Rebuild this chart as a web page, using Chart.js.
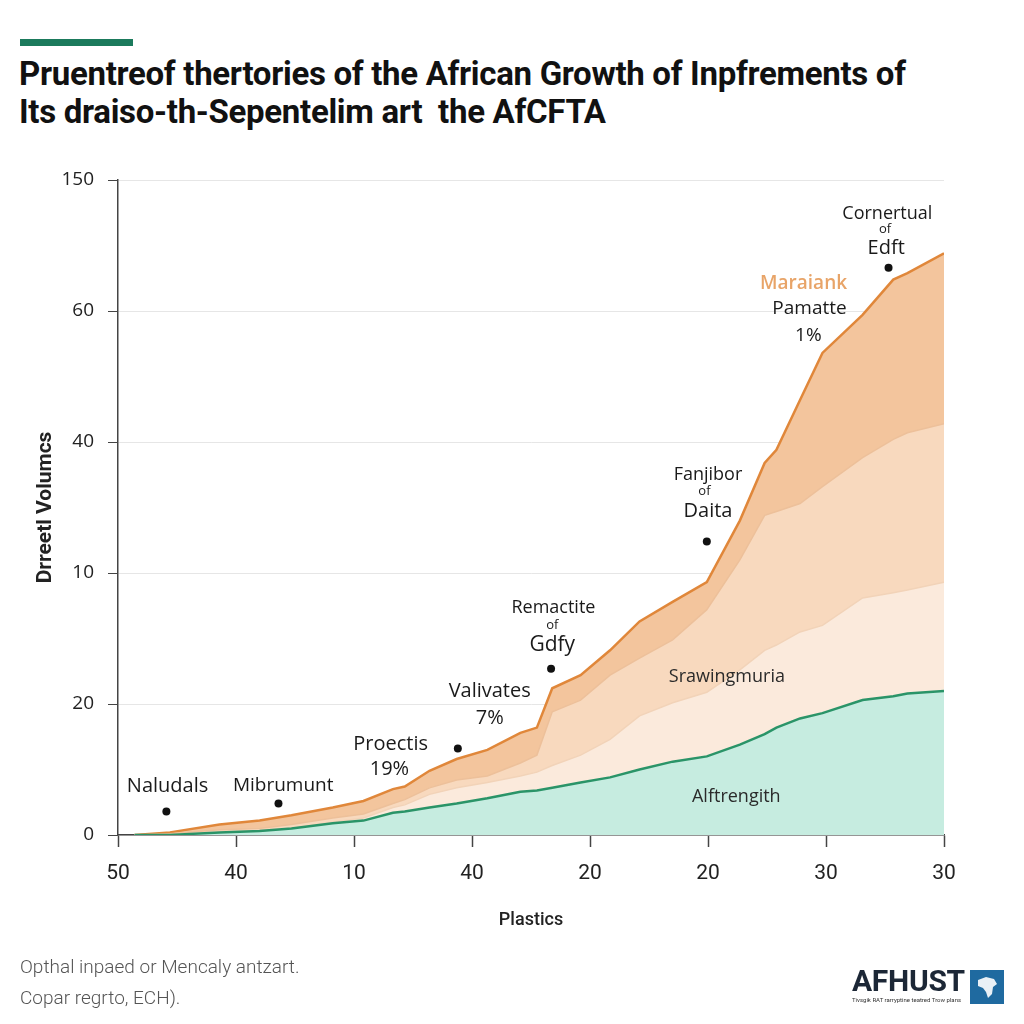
<!DOCTYPE html>
<html>
<head>
<meta charset="utf-8">
<script src="https://cdn.jsdelivr.net/npm/chart.js@4.4.1/dist/chart.umd.min.js"></script>
<style>
  html,body{margin:0;padding:0;background:#fff;}
  body{width:1024px;height:1024px;position:relative;overflow:hidden;font-family:Roboto,"Liberation Sans",sans-serif;}
  #bar{position:absolute;left:20px;top:39px;width:113px;height:7px;background:#1b7a5c;}
  #title{position:absolute;left:19px;top:55px;font-family:Roboto,"Liberation Sans",sans-serif;font-weight:700;font-size:33px;line-height:38px;color:#111;letter-spacing:-0.3px;white-space:nowrap;}
  #wrap{position:absolute;left:0;top:0;width:1024px;height:1024px;}
  #foot{position:absolute;left:20px;top:951px;font-family:Roboto,sans-serif;font-weight:300;font-size:19px;line-height:31px;color:#555;}
  #logo{position:absolute;left:852px;top:966px;}
  #logo .name{font-family:Roboto,"Liberation Sans",sans-serif;font-weight:700;font-size:30px;line-height:30px;color:#1c2736;letter-spacing:-0.3px;}
  #logo .sub{font-size:6px;color:#333;line-height:8px;white-space:nowrap;}
  #logo svg{position:absolute;left:118px;top:4px;}
</style>
</head>
<body>
<div id="bar"></div>
<div id="title">Pruentreof thertories of the African Growth of Inpfrements of<br>Its draiso-th-Sepentelim art&nbsp; the AfCFTA</div>
<div id="wrap"><canvas id="c" width="1024" height="1024"></canvas></div>
<div id="foot">Opthal inpaed or Mencaly antzart.<br>Copar regrto, ECH).</div>
<div id="logo"><div class="name">AFHUST</div><div class="sub">Tivsgik RAT rarryptine teatred  Trow plans</div>
<svg width="34" height="34" viewBox="0 0 34 34"><rect width="34" height="34" fill="#1f6aa0"/><path d="M8 10 L16 7 L24 9 L27 14 L23 17 L22 24 L18 28 L16 22 L13 18 L8 16 Z" fill="#fff" opacity="0.9"/></svg></div>

<script>
// ---- data (all values in the chart's evenly spaced y-axis units) ----
const xLabels = ['50','40','10','40','20','20','30','30'];
const yLabels = ['0','20','10','40','60','150'];
const xPoints = [0.14,0.44,0.86,1.20,1.47,1.82,2.08,2.33,2.43,2.64,2.87,3.13,3.41,3.55,3.68,3.92,4.17,4.42,4.70,4.99,5.27,5.48,5.58,5.78,5.97,6.31,6.57,6.69,7.00];
const alftrengith = [0,0,0.02,0.03,0.05,0.09,0.11,0.17,0.18,0.21,0.24,0.28,0.33,0.34,0.36,0.40,0.44,0.50,0.56,0.60,0.69,0.77,0.82,0.89,0.93,1.03,1.06,1.08,1.10];
const srawingmuria = [0,0,0.02,0.04,0.05,0.10,0.13,0.21,0.23,0.31,0.36,0.40,0.45,0.48,0.53,0.61,0.73,0.91,1.01,1.09,1.26,1.41,1.45,1.55,1.60,1.81,1.85,1.87,1.93];
const pamatte = [0,0.01,0.04,0.05,0.08,0.13,0.16,0.24,0.27,0.36,0.42,0.45,0.55,0.61,0.94,1.03,1.22,1.35,1.49,1.72,2.10,2.44,2.47,2.53,2.66,2.88,3.02,3.07,3.14];
const maraiank = [0,0.02,0.08,0.11,0.15,0.21,0.26,0.35,0.37,0.49,0.58,0.65,0.78,0.82,1.12,1.22,1.41,1.63,1.78,1.93,2.40,2.84,2.94,3.32,3.68,3.97,4.24,4.29,4.44];

// ---- annotations (anchor in axis units) ----
const dots = [[0.41,0.18],[1.36,0.24],[2.88,0.66],[3.67,1.27],[4.99,2.24],[6.53,4.33]];
const notes = [
  ['Naludals',0.42,0.37,20,'400','#1a1a1a'],
  ['Mibrumunt',1.40,0.38,19,'400','#1a1a1a'],
  ['Proectis',2.31,0.69,20,'400','#1a1a1a'],
  ['19%',2.30,0.50,20,'400','#1a1a1a'],
  ['Valivates',3.15,1.10,20,'400','#1a1a1a'],
  ['7%',3.15,0.89,20,'400','#1a1a1a'],
  ['Remactite',3.69,1.73,18,'400','#1a1a1a'],
  ['of',3.68,1.60,13,'400','#1a1a1a'],
  ['Gdfy',3.68,1.45,21,'400','#1a1a1a'],
  ['Fanjibor',5.00,2.75,18,'400','#1a1a1a'],
  ['of',4.97,2.62,13,'400','#1a1a1a'],
  ['Daita',5.00,2.47,20,'400','#1a1a1a'],
  ['Maraiank',5.81,4.21,19,'600','#e8a468'],
  ['Pamatte',5.86,4.02,19,'400','#1a1a1a'],
  ['1%',5.85,3.81,19,'400','#1a1a1a'],
  ['Cornertual',6.52,4.74,18,'400','#1a1a1a'],
  ['of',6.50,4.62,13,'400','#1a1a1a'],
  ['Edft',6.51,4.48,20,'400','#1a1a1a'],
  ['Srawingmuria',5.16,1.21,18,'400','#2a2a2a'],
  ['Alftrengith',5.24,0.29,18,'400','#2a2a2a']
];

const pts = arr => arr.map((v,i)=>({x:xPoints[i], y:v}));

const annot = {
  id:'annot',
  afterDatasetsDraw(chart){
    const {ctx, scales:{x,y}} = chart;
    ctx.save();
    ctx.fillStyle = '#111';
    dots.forEach(([a,b])=>{ctx.beginPath();ctx.arc(x.getPixelForValue(a),y.getPixelForValue(b),4,0,Math.PI*2);ctx.fill();});
    ctx.textAlign='center'; ctx.textBaseline='middle';
    notes.forEach(([t,a,b,s,w,c])=>{
      ctx.font = w+' '+s+'px "Open Sans", "Noto Sans", sans-serif';
      ctx.fillStyle = c;
      ctx.fillText(t, x.getPixelForValue(a), y.getPixelForValue(b));
    });
    ctx.restore();
  }
};

new Chart(document.getElementById('c'), {
  type:'line',
  data:{
    datasets:[
      {label:'Alftrengith', data:pts(alftrengith), borderColor:'#2a9468', borderWidth:2.5, backgroundColor:'#c6ece0', fill:'origin', pointRadius:0, tension:0},
      {label:'Srawingmuria', data:pts(srawingmuria), borderColor:'#f2d3b8', borderWidth:1.5, backgroundColor:'#fbeadc', fill:'-1', pointRadius:0, tension:0},
      {label:'Pamatte', data:pts(pamatte), borderColor:'#edc09a', borderWidth:1.5, backgroundColor:'#f8d9be', fill:'-1', pointRadius:0, tension:0},
      {label:'Maraiank', data:pts(maraiank), borderColor:'#e0873a', borderWidth:2.5, backgroundColor:'#f3c59d', fill:'-1', pointRadius:0, tension:0}
    ]
  },
  options:{
    responsive:false, animation:false, devicePixelRatio:1,
    layout:{padding:{left:0,right:80,top:180,bottom:79}},
    plugins:{legend:{display:false}, tooltip:{enabled:false}},
    scales:{
      x:{type:'linear', min:0, max:7,
        afterFit(s){ s.height = 110; },
        ticks:{stepSize:1, padding:14, color:'#222', font:{family:'Roboto', size:21}, callback:(v)=>xLabels[v]},
        grid:{drawOnChartArea:false, drawTicks:true, tickLength:12, tickColor:'#444', tickWidth:1.5},
        border:{display:true, color:'#444', width:1.5},
        title:{display:true, text:'Plastics', color:'#222', font:{family:'Roboto', size:18, weight:'500'}, padding:{top:4, bottom:14}}
      },
      y:{min:0, max:5,
        afterFit(s){ s.width = 118; },
        ticks:{stepSize:1, padding:14, color:'#222', font:{family:'"Open Sans"', size:19}, callback:(v)=>yLabels[v]},
        grid:{color:'#e6e6e6', lineWidth:1, drawTicks:true, tickLength:10, tickColor:'#444'},
        border:{display:true, color:'#444', width:1.5},
        title:{display:true, text:'Drreetl Volumcs', color:'#222', font:{family:'Roboto', size:21, weight:'700'}, padding:{top:33}}
      }
    }
  },
  plugins:[annot]
});
</script>
</body>
</html>
